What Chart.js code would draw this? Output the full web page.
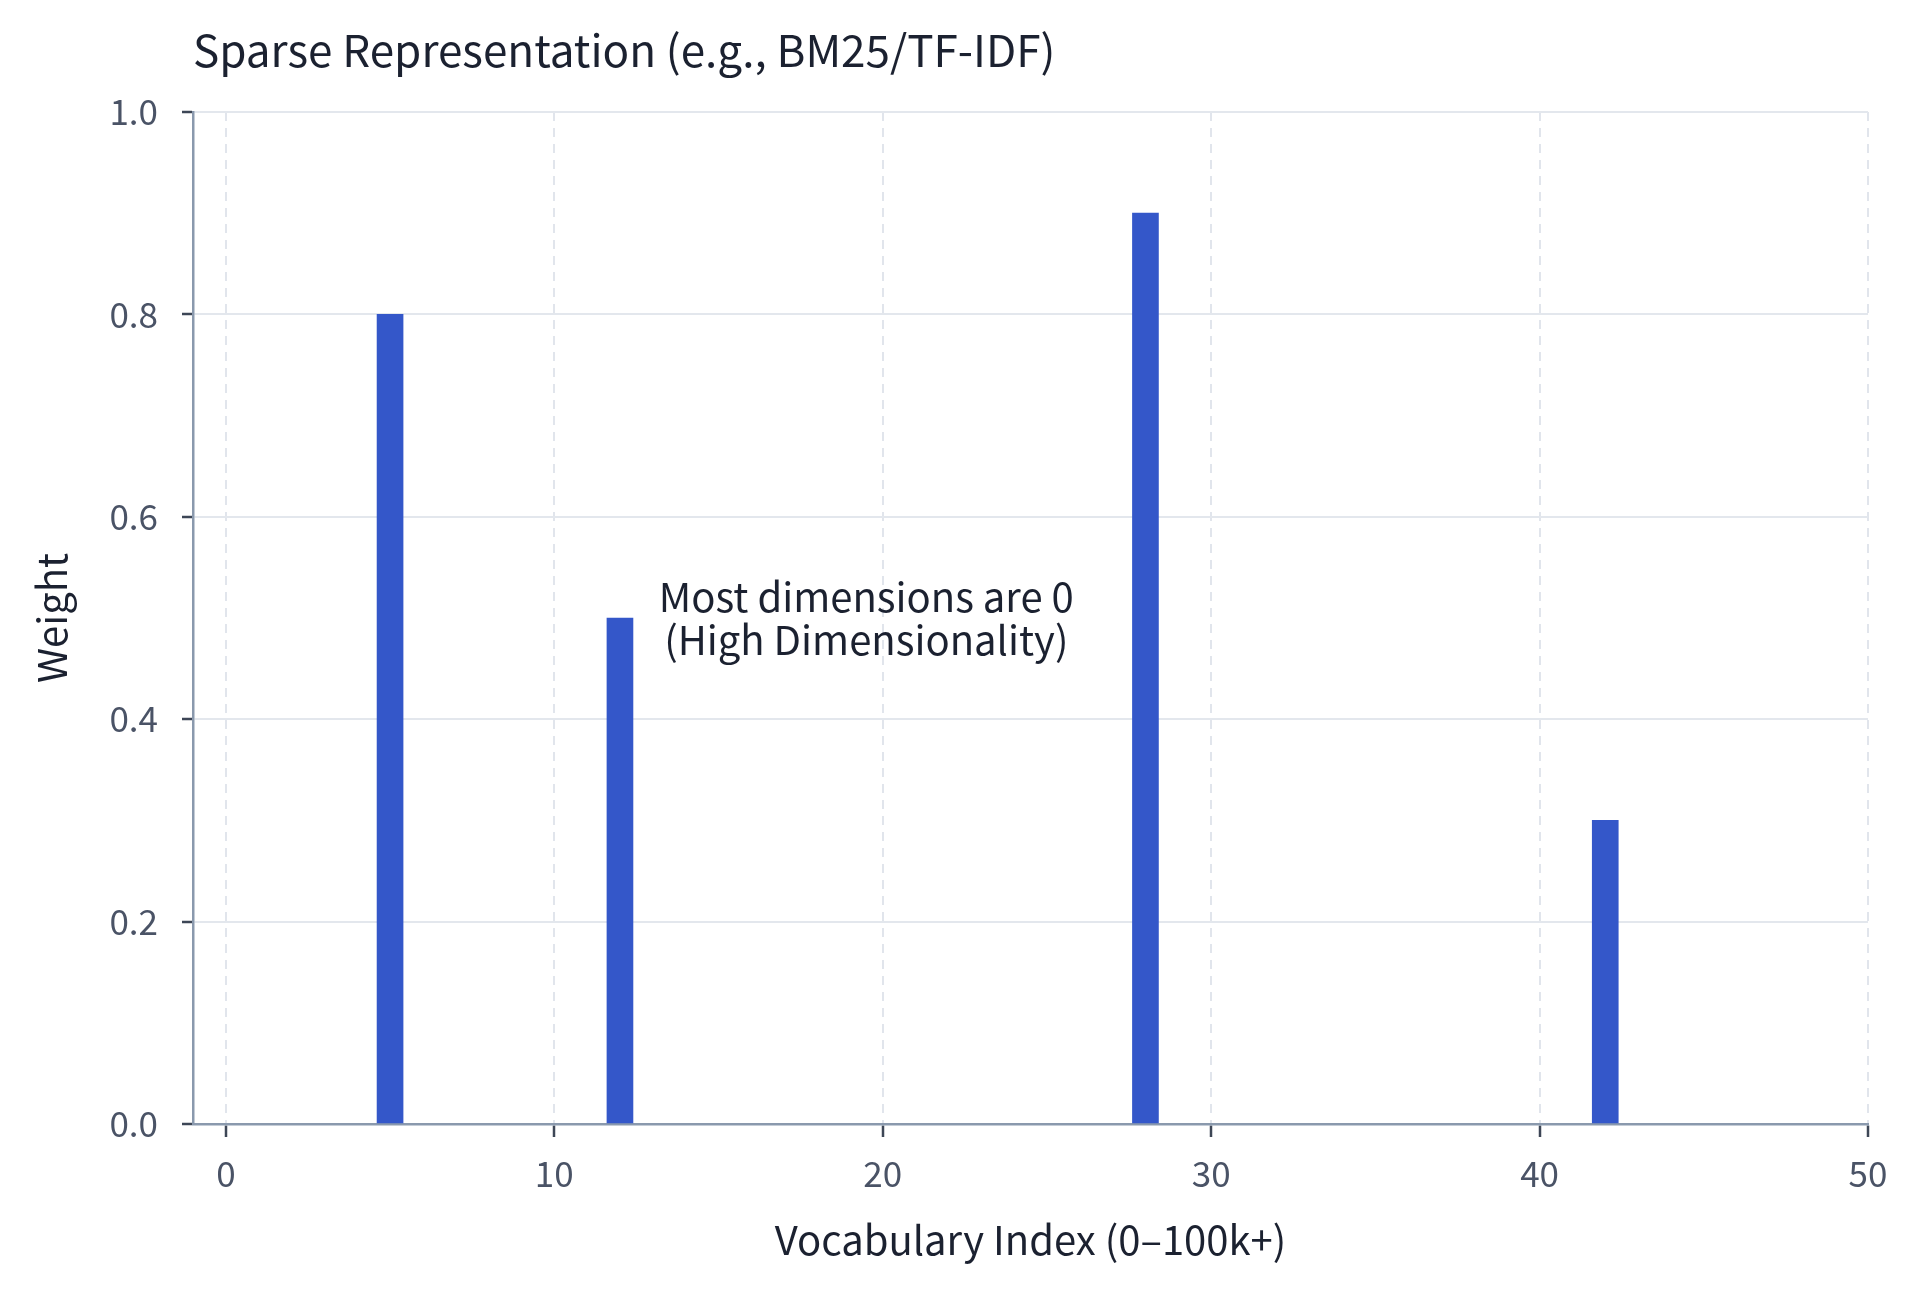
<!DOCTYPE html>
<html>
<head>
<meta charset="utf-8">
<script src="https://cdn.jsdelivr.net/npm/chart.js@4"></script>
<style>
  html, body { margin: 0; padding: 0; background: #fff; }
  #wrap { width: 1920px; height: 1292px; }
</style>
</head>
<body>
<div id="wrap"><canvas id="chart" width="1920" height="1292"></canvas></div>
<script>
// data
const vocabIndex = [5, 12, 28, 42];
const weights = [0.8, 0.5, 0.9, 0.3];
const xTicks = [0, 10, 20, 30, 40, 50];
const yTicks = [0, 0.2, 0.4, 0.6, 0.8, 1.0];

const titleText = 'Sparse Representation (e.g., BM25/TF-IDF)';
const noteLines = ['Most dimensions are 0', '(High Dimensionality)'];
const notePos = { x: 19.5, y: 0.5 };

const FONT = "'Noto Sans CJK KR', 'Noto Sans', sans-serif";
const ink = '#1b2130';
const tickInk = '#4a5366';
const axisCol = '#8a99ad';

const drawExtras = {
  id: 'drawExtras',
  afterDraw(chart) {
    const { ctx, chartArea, scales } = chart;
    ctx.save();
    ctx.fillStyle = ink;
    ctx.font = '44px ' + FONT;
    ctx.textAlign = 'left';
    ctx.textBaseline = 'middle';
    ctx.fillText(titleText, chartArea.left, 50);

    ctx.font = '40px ' + FONT;
    ctx.textAlign = 'center';
    const cx = scales.x.getPixelForValue(notePos.x);
    const cy = scales.y.getPixelForValue(notePos.y);
    const lh = 43;
    noteLines.forEach((t, i) => {
      ctx.fillText(t, cx, cy + (i - (noteLines.length - 1) / 2) * lh);
    });
    ctx.restore();
  }
};

const ctx = document.getElementById('chart').getContext('2d');
new Chart(ctx, {
  type: 'bar',
  data: {
    datasets: [{
      data: vocabIndex.map((v, i) => ({ x: v, y: weights[i] })),
      backgroundColor: '#3457c9',
      borderWidth: 0,
      barThickness: 26
    }]
  },
  options: {
    responsive: false,
    animation: false,
    devicePixelRatio: 1,
    layout: { padding: { top: 112, right: 52, bottom: 0, left: 0 } },
    plugins: {
      legend: { display: false },
      tooltip: { enabled: false },
      title: { display: false }
    },
    scales: {
      x: {
        type: 'linear',
        min: -1,
        max: 50,
        offset: false,
        afterBuildTicks: (s) => { s.ticks = xTicks.map(v => ({ value: v })); },
        afterFit: (s) => { s.height = 1292 - 1124; },
        ticks: {
          color: tickInk,
          font: { family: FONT, size: 35 },
          padding: 16,
          maxRotation: 0,
          callback: (v) => String(v)
        },
        grid: {
          offset: false,
          color: '#e1e5ec',
          lineWidth: 2,
          drawTicks: true,
          tickLength: 13,
          tickColor: '#3d4656',
          tickWidth: 2.5
        },
        border: { color: axisCol, width: 2.5, dash: [9, 7] },
        title: {
          display: true,
          text: 'Vocabulary Index (0–100k+)',
          color: ink,
          font: { family: FONT, size: 40 },
          padding: { top: 0, bottom: 28 }
        }
      },
      y: {
        min: 0,
        max: 1,
        afterBuildTicks: (s) => { s.ticks = yTicks.map(v => ({ value: v })); },
        afterFit: (s) => { s.width = 193; },
        ticks: {
          color: tickInk,
          font: { family: FONT, size: 35 },
          padding: 24,
          callback: (v) => Number(v).toFixed(1)
        },
        grid: {
          color: '#e3e7ed',
          lineWidth: 2,
          drawTicks: true,
          tickLength: 11,
          tickColor: '#3d4656',
          tickWidth: 2.5
        },
        border: { color: axisCol, width: 2.5 },
        title: {
          display: true,
          text: 'Weight',
          color: ink,
          font: { family: FONT, size: 40 },
          padding: { top: 28, bottom: 0 }
        }
      }
    }
  },
  plugins: [drawExtras]
});
</script>
</body>
</html>
